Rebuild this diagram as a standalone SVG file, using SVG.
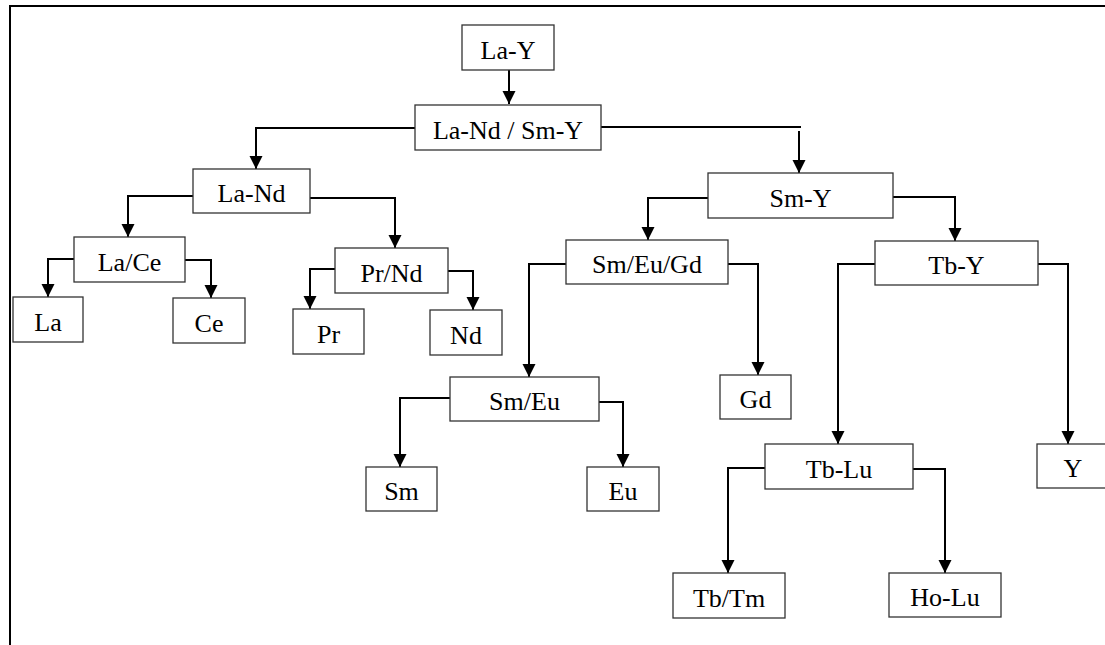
<svg xmlns="http://www.w3.org/2000/svg" width="1105" height="645" viewBox="0 0 1105 645">
<style>
.box{fill:#fff;stroke:#333;stroke-width:1.3}
.lbl{font-family:"Liberation Serif","Times New Roman",serif;font-size:26px;fill:#000;text-anchor:middle}
.con{fill:none;stroke:#000;stroke-width:2}
.frame{fill:none;stroke:#000;stroke-width:2}
</style>
<defs>
<marker id="arr" markerUnits="userSpaceOnUse" markerWidth="14" markerHeight="14" refX="13" refY="6.5" orient="auto">
<path d="M0,0 L13,6.5 L0,13 z" fill="#000"/>
</marker>
</defs>
<rect width="1105" height="645" fill="#fff"/>
<path class="frame" d="M10,645 V6 H1105"/>
<g id="connectors">
<path class="con" d="M509,70 V104" marker-end="url(#arr)"/>
<path class="con" d="M415,128 H256 V169" marker-end="url(#arr)"/>
<path class="con" d="M601,127 H801"/>
<path class="con" d="M799,131 V173" marker-end="url(#arr)"/>
<path class="con" d="M193,196 H128 V237" marker-end="url(#arr)"/>
<path class="con" d="M310,198 H395 V248" marker-end="url(#arr)"/>
<path class="con" d="M74,259 H48 V297" marker-end="url(#arr)"/>
<path class="con" d="M185,260 H211 V298" marker-end="url(#arr)"/>
<path class="con" d="M335,269 H310 V309" marker-end="url(#arr)"/>
<path class="con" d="M448,271 H473 V310" marker-end="url(#arr)"/>
<path class="con" d="M708,198 H648 V240" marker-end="url(#arr)"/>
<path class="con" d="M893,197 H955 V241" marker-end="url(#arr)"/>
<path class="con" d="M566,264 H529 V377" marker-end="url(#arr)"/>
<path class="con" d="M728,264 H758 V375" marker-end="url(#arr)"/>
<path class="con" d="M875,264 H838 V444" marker-end="url(#arr)"/>
<path class="con" d="M1038,264 H1068 V444" marker-end="url(#arr)"/>
<path class="con" d="M450,398 H400 V467" marker-end="url(#arr)"/>
<path class="con" d="M599,402 H623 V467" marker-end="url(#arr)"/>
<path class="con" d="M765,468 H728 V573" marker-end="url(#arr)"/>
<path class="con" d="M913,469 H945 V573" marker-end="url(#arr)"/>
</g>
<g id="n-LaY"><rect class="box" x="462" y="25" width="92" height="45"/><text class="lbl" x="508" y="59">La-Y</text></g>
<g id="n-LaNdSmY"><rect class="box" x="415" y="105" width="186" height="45"/><text class="lbl" x="508" y="139">La-Nd / Sm-Y</text></g>
<g id="n-LaNd"><rect class="box" x="193" y="169" width="117" height="44"/><text class="lbl" x="251.5" y="202">La-Nd</text></g>
<g id="n-SmY"><rect class="box" x="708" y="173" width="185" height="45"/><text class="lbl" x="800.5" y="207">Sm-Y</text></g>
<g id="n-LaCe"><rect class="box" x="74" y="237" width="111" height="45"/><text class="lbl" x="129.5" y="271">La/Ce</text></g>
<g id="n-PrNd"><rect class="box" x="335" y="248" width="113" height="45"/><text class="lbl" x="391.5" y="282">Pr/Nd</text></g>
<g id="n-La"><rect class="box" x="13" y="297" width="70" height="45"/><text class="lbl" x="48" y="331">La</text></g>
<g id="n-Ce"><rect class="box" x="173" y="298" width="72" height="45"/><text class="lbl" x="209" y="332">Ce</text></g>
<g id="n-Pr"><rect class="box" x="293" y="309" width="71" height="45"/><text class="lbl" x="328.5" y="343">Pr</text></g>
<g id="n-Nd"><rect class="box" x="430" y="310" width="72" height="45"/><text class="lbl" x="466" y="344">Nd</text></g>
<g id="n-SmEuGd"><rect class="box" x="566" y="240" width="162" height="44"/><text class="lbl" x="647" y="273">Sm/Eu/Gd</text></g>
<g id="n-TbY"><rect class="box" x="875" y="241" width="163" height="44"/><text class="lbl" x="956.5" y="274">Tb-Y</text></g>
<g id="n-SmEu"><rect class="box" x="450" y="377" width="149" height="44"/><text class="lbl" x="524.5" y="410">Sm/Eu</text></g>
<g id="n-Gd"><rect class="box" x="720" y="375" width="71" height="44"/><text class="lbl" x="755.5" y="408">Gd</text></g>
<g id="n-Sm"><rect class="box" x="366" y="467" width="71" height="44"/><text class="lbl" x="401.5" y="500">Sm</text></g>
<g id="n-Eu"><rect class="box" x="587" y="467" width="72" height="44"/><text class="lbl" x="623" y="500">Eu</text></g>
<g id="n-TbLu"><rect class="box" x="765" y="444" width="148" height="45"/><text class="lbl" x="839" y="478">Tb-Lu</text></g>
<g id="n-Y"><rect class="box" x="1037" y="444" width="75" height="44"/><text class="lbl" x="1073" y="477">Y</text></g>
<g id="n-TbTm"><rect class="box" x="673" y="573" width="112" height="45"/><text class="lbl" x="729" y="607">Tb/Tm</text></g>
<g id="n-HoLu"><rect class="box" x="889" y="573" width="112" height="44"/><text class="lbl" x="945" y="606">Ho-Lu</text></g>
</svg>
